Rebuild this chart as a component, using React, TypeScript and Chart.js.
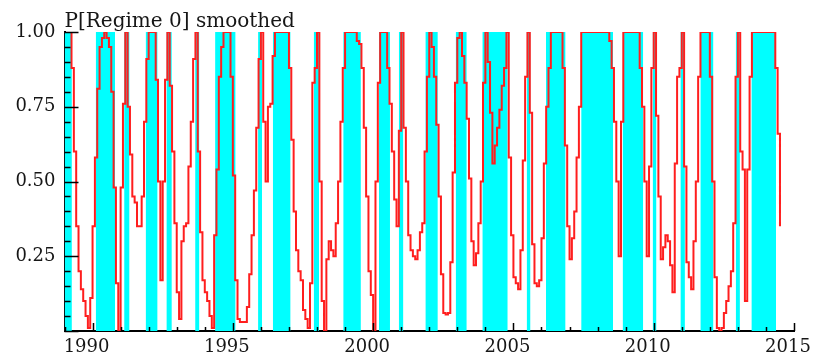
import React, { useEffect, useRef } from 'react';
import { Chart, registerables } from 'chart.js';

Chart.register(...registerables);

// Monthly smoothed probabilities of regime 0, starting 1989:1
const START_YEAR = 1989;
const probSmoothed: number[] = [
  1.0, 1.0, 1.0, 0.88, 0.60, 0.35, 0.20, 0.14, 0.10, 0.05, 0.01, 0.11,
  0.35, 0.58, 0.81, 0.95, 0.98, 1.0, 0.98, 0.95, 0.80, 0.48, 0.16, 0.0,
  0.48, 0.76, 1.0, 0.75, 0.59, 0.45, 0.43, 0.35, 0.35, 0.45, 0.70, 0.91,
  1.0, 1.0, 1.0, 0.84, 0.50, 0.17, 0.50, 0.84, 1.0, 0.82, 0.60, 0.36,
  0.13, 0.04, 0.30, 0.35, 0.36, 0.55, 0.70, 0.91, 1.0, 0.60, 0.33, 0.17,
  0.13, 0.10, 0.05, 0.01, 0.32, 0.54, 0.85, 0.95, 1.0, 1.0, 1.0, 0.85,
  0.52, 0.17, 0.04, 0.03, 0.03, 0.03, 0.08, 0.19, 0.32, 0.47, 0.68, 0.91,
  1.0, 0.70, 0.50, 0.75, 0.76, 0.92, 1.0, 1.0, 1.0, 1.0, 1.0, 1.0,
  0.88, 0.64, 0.40, 0.27, 0.20, 0.17, 0.07, 0.04, 0.01, 0.16, 0.83, 0.88,
  1.0, 0.50, 0.10, 0.0, 0.24, 0.30, 0.27, 0.25, 0.36, 0.50, 0.70, 0.88,
  1.0, 1.0, 1.0, 1.0, 1.0, 0.97, 0.96, 0.88, 0.68, 0.45, 0.20, 0.12,
  0.0, 0.50, 0.83, 1.0, 1.0, 1.0, 0.88, 0.76, 0.60, 0.44, 0.35, 0.67,
  1.0, 0.68, 0.50, 0.32, 0.27, 0.25, 0.24, 0.27, 0.33, 0.36, 0.60, 0.85,
  1.0, 0.95, 0.85, 0.69, 0.45, 0.19, 0.06, 0.055, 0.06, 0.23, 0.53, 0.83,
  0.98, 1.0, 0.92, 0.83, 0.71, 0.51, 0.30, 0.22, 0.26, 0.36, 0.50, 0.83,
  1.0, 0.90, 0.73, 0.56, 0.62, 0.68, 0.74, 0.82, 0.88, 1.0, 0.58, 0.32,
  0.18, 0.16, 0.14, 0.27, 0.57, 0.85, 1.0, 0.73, 0.29, 0.16, 0.15, 0.17,
  0.31, 0.56, 0.75, 0.88, 1.0, 1.0, 1.0, 1.0, 1.0, 0.88, 0.62, 0.35,
  0.24, 0.31, 0.40, 0.58, 0.75, 1.0, 1.0, 1.0, 1.0, 1.0, 1.0, 1.0,
  1.0, 1.0, 1.0, 1.0, 1.0, 0.97, 0.88, 0.70, 0.50, 0.25, 0.70, 1.0,
  1.0, 1.0, 1.0, 1.0, 1.0, 1.0, 0.88, 0.75, 0.50, 0.25, 0.55, 0.88,
  1.0, 0.72, 0.45, 0.24, 0.28, 0.32, 0.30, 0.22, 0.13, 0.56, 0.85, 0.88,
  1.0, 0.55, 0.23, 0.18, 0.14, 0.30, 0.50, 0.85, 1.0, 1.0, 1.0, 1.0,
  0.85, 0.50, 0.18, 0.01, 0.0, 0.01, 0.06, 0.10, 0.15, 0.20, 0.36, 0.85,
  1.0, 0.60, 0.54, 0.10, 0.54, 0.85, 1.0, 1.0, 1.0, 1.0, 1.0, 1.0,
  1.0, 1.0, 1.0, 1.0, 0.88, 0.66, 0.35,
];

// Periods classified as regime 0 (shaded), decimal years
const regimeStart: number[] = [
  1989.0, 1990.12, 1991.13, 1991.9, 1992.64, 1993.66, 1994.37, 1995.9, 1996.43,
  1997.89, 1998.94, 2000.21, 2000.92, 2001.87, 2002.95, 2003.9, 2005.48,
  2006.16, 2007.42, 2008.9, 2009.97, 2010.96, 2011.67, 2012.93, 2013.49,
];
const regimeEnd: number[] = [
  1989.26, 1990.8, 1991.31, 1992.31, 1992.82, 1993.8, 1995.09, 1996.04, 1997.05,
  1998.07, 1999.56, 2000.6, 2001.07, 2002.3, 2003.33, 2004.79, 2005.6,
  2006.85, 2008.55, 2009.62, 2010.09, 2011.11, 2012.12, 2013.07, 2014.36,
];

const xLabelYears: number[] = [1990, 1995, 2000, 2005, 2010, 2015];
const yTickValues: number[] = [0.25, 0.5, 0.75, 1.0];
const titleText = 'P[Regime 0] smoothed';

const X_MIN = 1989;
const X_MAX = 2015;
const FONT_FAMILY = "'DejaVu Serif', 'Liberation Serif', serif";
const TEXT_COLOR = '#161616';

const inwardTicks = {
  id: 'inwardTicks',
  afterDraw(chart: any) {
    const { ctx, chartArea, scales } = chart;
    const xs = scales.x;
    const ys = scales.y;
    ctx.save();
    ctx.strokeStyle = '#000';
    ctx.lineWidth = 1.5;
    ctx.beginPath();
    for (let yr = X_MIN; yr <= X_MAX; yr++) {
      const px = Math.round(xs.getPixelForValue(yr)) + 0.5;
      const len = yr % 5 === 0 ? 8 : 4;
      ctx.moveTo(px, chartArea.bottom);
      ctx.lineTo(px, chartArea.bottom - len);
    }
    for (let i = 0; i <= 20; i++) {
      const v = i / 20;
      const py = Math.round(ys.getPixelForValue(v)) + 0.5;
      const len = i % 5 === 0 ? 14 : 6;
      ctx.moveTo(chartArea.left, py);
      ctx.lineTo(chartArea.left + len, py);
    }
    ctx.stroke();
    ctx.restore();
  },
};

export default function App() {
  const canvasRef = useRef<HTMLCanvasElement | null>(null);

  useEffect(() => {
    if (!canvasRef.current) return;
    const lineData = probSmoothed.map((v, i) => ({ x: START_YEAR + i / 12, y: v }));
    const bandData: { x: number; y: number }[] = [];
    regimeStart.forEach((s, i) => {
      const e = regimeEnd[i];
      bandData.push({ x: s, y: 0 }, { x: s, y: 1 }, { x: e, y: 1 }, { x: e, y: 0 });
    });

    const chart = new Chart(canvasRef.current, {
      type: 'line',
      data: {
        datasets: [
          {
            label: 'P[Regime 0] smoothed',
            data: lineData,
            borderColor: '#ff1e1e',
            borderWidth: 2,
            pointRadius: 0,
            stepped: true,
            fill: false,
            order: 0,
          },
          {
            label: 'Regime 0',
            data: bandData,
            borderColor: 'rgba(0,0,0,0)',
            borderWidth: 0,
            backgroundColor: '#00ffff',
            pointRadius: 0,
            fill: 'origin',
            tension: 0,
            order: 1,
          },
        ],
      },
      options: {
        animation: false,
        responsive: false,
        maintainAspectRatio: false,
        events: [],
        layout: { padding: { left: 0, right: 22, top: 0, bottom: 0 } },
        plugins: {
          legend: { display: false },
          tooltip: { enabled: false },
          title: {
            display: true,
            text: titleText,
            align: 'start',
            fullSize: false,
            color: TEXT_COLOR,
            font: { family: FONT_FAMILY, size: 20, lineHeight: 1, weight: 'normal' },
            padding: { top: 12, bottom: 0 },
          },
        },
        scales: {
          x: {
            type: 'linear',
            min: X_MIN,
            max: X_MAX,
            afterBuildTicks: (axis: any) => {
              axis.ticks = xLabelYears.map((v) => ({ value: v }));
            },
            ticks: {
              callback: (v: any) => String(v),
              font: { family: FONT_FAMILY, size: 18 },
              color: TEXT_COLOR,
              padding: 6,
              labelOffset: -6,
              maxRotation: 0,
              autoSkip: false,
            },
            grid: { display: true, drawOnChartArea: false, drawTicks: false },
            border: { display: true, color: '#000', width: 2 },
            afterFit: (axis: any) => {
              axis.height = 25;
              axis.paddingLeft = 0;
              axis.paddingRight = 0;
            },
          },
          y: {
            type: 'linear',
            min: 0,
            max: 1,
            afterBuildTicks: (axis: any) => {
              axis.ticks = yTickValues.map((v) => ({ value: v }));
            },
            ticks: {
              callback: (v: any) => Number(v).toFixed(2),
              font: { family: FONT_FAMILY, size: 18 },
              color: TEXT_COLOR,
              padding: 9,
            },
            grid: { display: true, drawOnChartArea: false, drawTicks: false },
            border: { display: true, color: '#000', width: 2 },
            afterFit: (axis: any) => {
              axis.width = 64.5;
              axis.paddingTop = 0;
              axis.paddingBottom = 0;
            },
          },
        },
      },
      plugins: [inwardTicks],
    } as any);

    return () => {
      chart.destroy();
    };
  }, []);

  return (
    <div style={{ position: 'fixed', left: 0, top: 0, width: 816, height: 356, background: '#fff' }}>
      <canvas ref={canvasRef} width={816} height={356} style={{ display: 'block' }} />
    </div>
  );
}
